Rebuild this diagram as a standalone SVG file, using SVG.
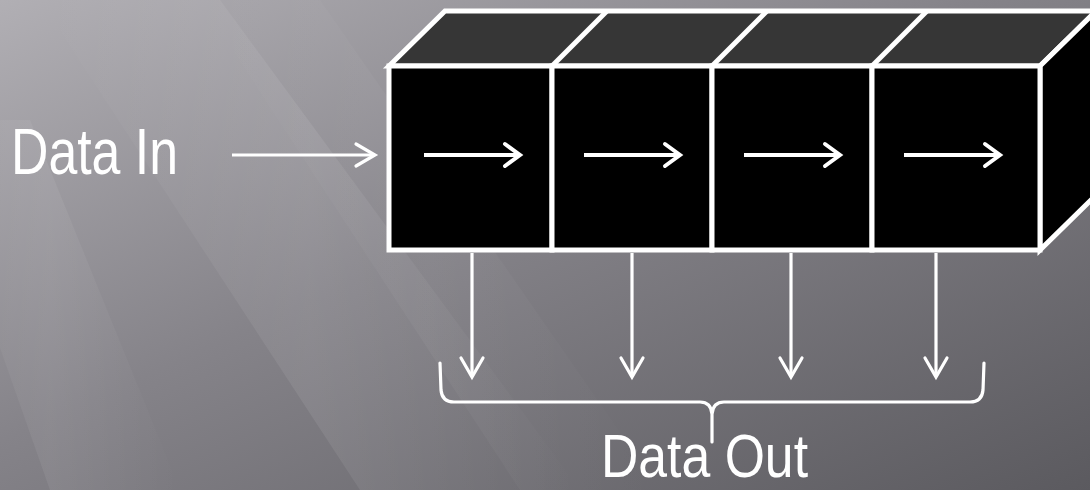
<svg xmlns="http://www.w3.org/2000/svg" width="1090" height="490" viewBox="0 0 1090 490">
  <defs>
    <linearGradient id="bg" x1="0" y1="0" x2="1" y2="1">
      <stop offset="0" stop-color="#b1afb4"/>
      <stop offset="0.45" stop-color="#858389"/>
      <stop offset="1" stop-color="#5b5a5f"/>
    </linearGradient>
    <linearGradient id="streak" x1="0" y1="0" x2="1" y2="0">
      <stop offset="0" stop-color="#ffffff" stop-opacity="0"/>
      <stop offset="0.5" stop-color="#ffffff" stop-opacity="0.08"/>
      <stop offset="1" stop-color="#ffffff" stop-opacity="0"/>
    </linearGradient>
    <marker id="headSmall" markerUnits="userSpaceOnUse" markerWidth="40" markerHeight="40" viewBox="-20 -20 40 40" refX="0" refY="0" orient="auto">
      <path d="M-15,-11 L0,0 L-15,11" fill="none" stroke="#fff" stroke-width="4" stroke-linecap="round" stroke-linejoin="miter"/>
    </marker>
    <marker id="headThin" markerUnits="userSpaceOnUse" markerWidth="40" markerHeight="40" viewBox="-25 -20 40 40" refX="0" refY="0" orient="auto">
      <path d="M-19,-11 L0,0 L-19,11" fill="none" stroke="#fff" stroke-width="3.2" stroke-linecap="round"/>
    </marker>
    <style>
      .edge { stroke: #ffffff; stroke-width: 5; stroke-linejoin: miter; }
      .inner { stroke: #ffffff; stroke-width: 4; fill: none; marker-end: url(#headSmall); }
      .conn { stroke: #ffffff; stroke-width: 3.2; fill: none; marker-end: url(#headThin); }
      .label { font-family: "Liberation Sans", Arial, sans-serif; fill: #ffffff; }
    </style>
  </defs>

  <!-- background -->
  <rect x="0" y="0" width="1090" height="490" fill="url(#bg)"/>
  <g>
    <polygon points="40,0 220,0 580,490 360,490" fill="url(#streak)"/>
    <polygon points="-80,120 30,120 180,490 50,490" fill="url(#streak)" opacity="0.8"/>
    <polygon points="200,0 320,0 660,490 520,490" fill="url(#streak)" opacity="0.5"/>
  </g>

  <!-- Data In label -->
  <g id="data-in">
    <text class="label" x="11" y="174" font-size="64" textLength="167" lengthAdjust="spacingAndGlyphs">Data In</text>
  </g>

  <!-- register block -->
  <g id="register">
    <polygon class="edge" points="389,66 445,11 1096,11 1040,66" fill="#363636"/>
    <polygon class="edge" points="1040,66 1096,11 1096,195 1040,250" fill="#000000"/>
    <line class="edge" x1="552" y1="66" x2="607" y2="11"/>
    <line class="edge" x1="712" y1="66" x2="767" y2="11"/>
    <line class="edge" x1="872" y1="66" x2="927" y2="11"/>
  </g>
  <g id="cell1">
    <rect class="edge" x="389" y="66" width="163" height="184" fill="#000"/>
    <line class="inner" x1="424" y1="155" x2="520" y2="155"/>
  </g>
  <g id="cell2">
    <rect class="edge" x="552" y="66" width="160" height="184" fill="#000"/>
    <line class="inner" x1="584" y1="155" x2="680" y2="155"/>
  </g>
  <g id="cell3">
    <rect class="edge" x="712" y="66" width="160" height="184" fill="#000"/>
    <line class="inner" x1="744" y1="155" x2="840" y2="155"/>
  </g>
  <g id="cell4">
    <rect class="edge" x="872" y="66" width="168" height="184" fill="#000"/>
    <line class="inner" x1="904" y1="155" x2="1000" y2="155"/>
  </g>

  <!-- connectors -->
  <g id="connectors">
    <line class="conn" x1="232" y1="155" x2="375" y2="155"/>
    <line class="conn" x1="472" y1="253" x2="472" y2="377"/>
    <line class="conn" x1="632" y1="253" x2="632" y2="377"/>
    <line class="conn" x1="791" y1="253" x2="791" y2="377"/>
    <line class="conn" x1="936" y1="253" x2="936" y2="377"/>
  </g>

  <!-- brace -->
  <g id="brace">
    <path d="M440,363 L441,390 Q442,402 454,402 L700,402 Q711,402 712,414 M984,363 L983,390 Q982,402 970,402 L724,402 Q713,402 712,414 L712,442" fill="none" stroke="#fff" stroke-width="3.2" stroke-linecap="round" stroke-linejoin="round"/>
  </g>

  <!-- Data Out label -->
  <g id="data-out">
    <text class="label" x="601" y="477" font-size="62" textLength="207" lengthAdjust="spacingAndGlyphs">Data Out</text>
  </g>
</svg>
